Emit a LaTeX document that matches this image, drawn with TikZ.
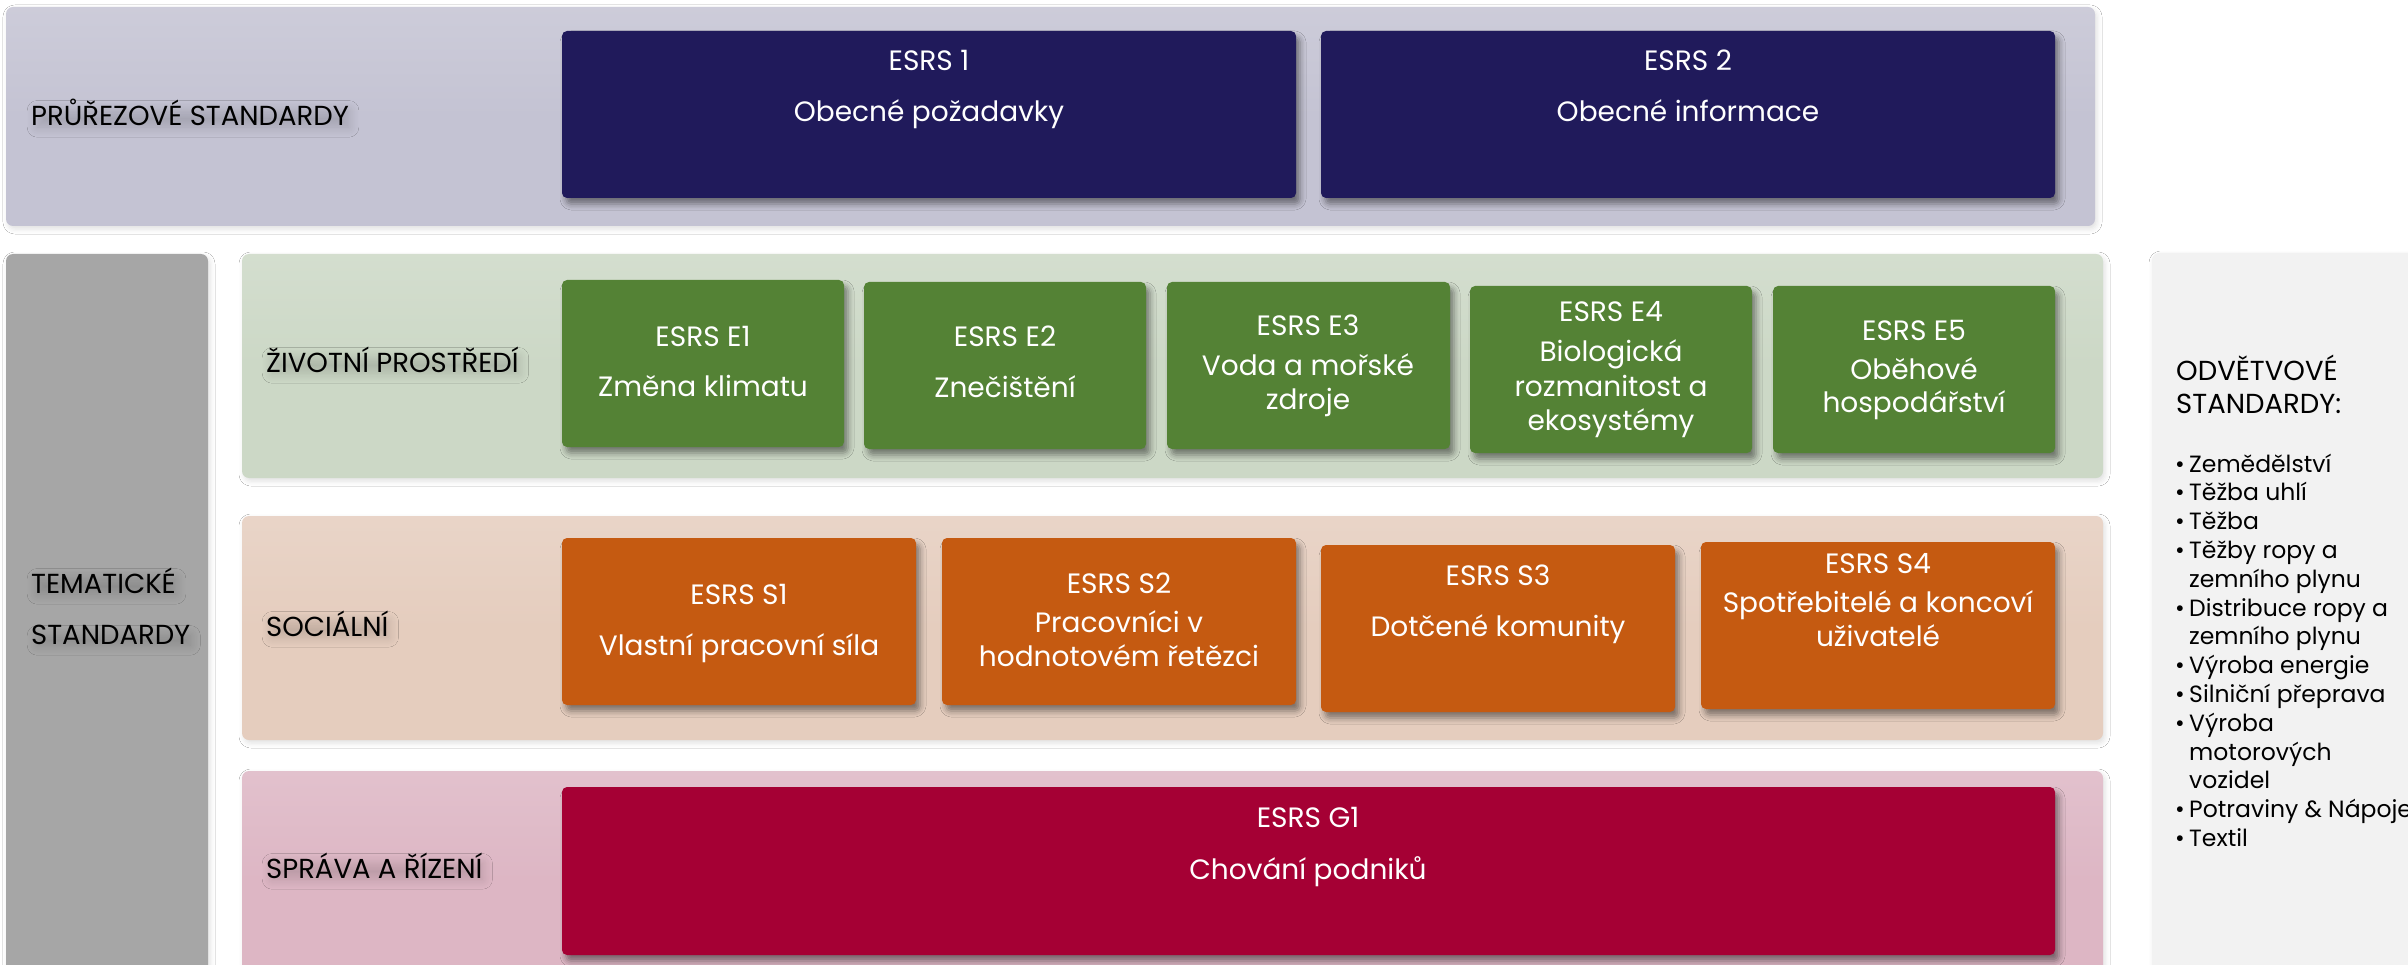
\documentclass[tikz,border=0pt]{standalone}
\usepackage{fontspec}
\setmainfont{Poppins}
\usetikzlibrary{fit,shadows.blur}
\definecolor{topPanel}{HTML}{C4C3D3}
\definecolor{navyBox}{HTML}{201A5B}
\definecolor{greyBar}{HTML}{A6A6A6}
\definecolor{envPanel}{HTML}{CCD8C6}
\definecolor{envBox}{HTML}{548235}
\definecolor{socPanel}{HTML}{E5CDBE}
\definecolor{socBox}{HTML}{C55A11}
\definecolor{govPanel}{HTML}{DDB6C4}
\definecolor{govBox}{HTML}{A50034}
\definecolor{sidePanel}{HTML}{F2F2F2}
\tikzset{
  panel/.style={rounded corners=7pt, inner sep=0pt, blur shadow={shadow xshift=2pt, shadow yshift=-3pt, shadow blur radius=5pt, shadow opacity=12}},
  stdbox/.style={rounded corners=5pt, inner sep=0pt, blur shadow={shadow xshift=4pt, shadow yshift=-6pt, shadow blur radius=6pt, shadow opacity=45}},
  boxtxt/.style={text=white, font=\fontsize{28}{33}\selectfont, anchor=base, inner sep=0pt},
  lbltxt/.style={text=black, font=\fontsize{27.5}{33}\selectfont, anchor=base west, inner sep=0pt},
  shlbl/.style={lbltxt, inner xsep=-3pt, inner ysep=-5pt, blur shadow={shadow xshift=3pt, shadow yshift=-6pt, shadow blur radius=10pt, shadow opacity=16, shadow blur steps=12}},
  listtxt/.style={text=black, font=\fontsize{23.5}{28}\selectfont, anchor=base west, inner sep=0pt},
}
\begin{document}
\begin{tikzpicture}[x=1pt,y=-1pt]
\useasboundingbox (0,0) rectangle (2408,965);
\clip (0,0) rectangle (2408,965);
\fill[white] (0,0) rectangle (2408,965);

% panels
\node[panel, top color=topPanel!85!white, bottom color=topPanel, middle color=topPanel, fit={(6,7) (2095,226)}] (ptop) {};
\node[panel, fill=greyBar, fit={(6,254) (208,990)}] (pgrey) {};
\node[panel, top color=envPanel!85!white, bottom color=envPanel, middle color=envPanel, fit={(242,254) (2103,478)}] (penv) {};
\node[panel, top color=socPanel!85!white, bottom color=socPanel, middle color=socPanel, fit={(242,516) (2103,740)}] (psoc) {};
\node[panel, top color=govPanel!85!white, bottom color=govPanel, middle color=govPanel, fit={(242,771) (2103,990)}] (pgov) {};
\node[panel, fill=sidePanel, fit={(2152,253) (2450,990)}] (pside) {};

% boxes
\node[stdbox, fill=navyBox, fit={(562,31) (1296,198)}] (b1) {};
\node[stdbox, fill=navyBox, fit={(1321,31) (2055,198)}] (b2) {};
\node[stdbox, fill=envBox, fit={(562,280) (844,447)}] (e1) {};
\node[stdbox, fill=envBox, fit={(864,282) (1146,449)}] (e2) {};
\node[stdbox, fill=envBox, fit={(1167,282) (1450,449)}] (e3) {};
\node[stdbox, fill=envBox, fit={(1470,286) (1752,453)}] (e4) {};
\node[stdbox, fill=envBox, fit={(1773,286) (2055,453)}] (e5) {};
\node[stdbox, fill=socBox, fit={(562,538) (916,705)}] (s1) {};
\node[stdbox, fill=socBox, fit={(942,538) (1296,705)}] (s2) {};
\node[stdbox, fill=socBox, fit={(1321,545) (1675,712)}] (s3) {};
\node[stdbox, fill=socBox, fit={(1701,542) (2055,709)}] (s4) {};
\node[stdbox, fill=govBox, fit={(562,787) (2055,955)}] (g1) {};

% box texts
\node[boxtxt] (b1a) at (929,71) {ESRS 1};
\node[boxtxt] (b1b) at (929,122) {Obecné požadavky};
\node[boxtxt] (b2a) at (1688,71) {ESRS 2};
\node[boxtxt] (b2b) at (1688,122) {Obecné informace};

\node[boxtxt] (e1a) at (703,346) {ESRS E1};
\node[boxtxt] (e1b) at (703,396) {Změna klimatu};
\node[boxtxt] (e2a) at (1005,347) {ESRS E2};
\node[boxtxt] (e2b) at (1005,397) {Znečištění};
\node[boxtxt] (e3a) at (1308,336) {ESRS E3};
\node[boxtxt] (e3b) at (1308,375) {Voda a mořské};
\node[boxtxt] (e3c) at (1308,409) {zdroje};
\node[boxtxt] (e4a) at (1611,322) {ESRS E4};
\node[boxtxt] (e4b) at (1611,362) {Biologická};
\node[boxtxt] (e4c) at (1611,396) {rozmanitost a};
\node[boxtxt] (e4d) at (1611,430) {ekosystémy};
\node[boxtxt] (e5a) at (1914,341) {ESRS E5};
\node[boxtxt] (e5b) at (1914,379) {Oběhové};
\node[boxtxt] (e5c) at (1914,412) {hospodářství};

\node[boxtxt] (s1a) at (739,604) {ESRS S1};
\node[boxtxt] (s1b) at (739,655) {Vlastní pracovní síla};
\node[boxtxt] (s2a) at (1119,593) {ESRS S2};
\node[boxtxt] (s2b) at (1119,632) {Pracovníci v};
\node[boxtxt] (s2c) at (1119,666) {hodnotovém řetězci};
\node[boxtxt] (s3a) at (1498,585) {ESRS S3};
\node[boxtxt] (s3b) at (1498,636) {Dotčené komunity};
\node[boxtxt] (s4a) at (1878,573) {ESRS S4};
\node[boxtxt] (s4b) at (1878,612) {Spotřebitelé a koncoví};
\node[boxtxt] (s4c) at (1878,646) {uživatelé};

\node[boxtxt] (g1a) at (1308,827) {ESRS G1};
\node[boxtxt] (g1b) at (1308,879) {Chování podniků};

% row labels
\node[shlbl] (lcross) at (34,126) {PRŮŘEZOVÉ STANDARDY};
\node[shlbl] (lthem1) at (34,593) {TEMATICKÉ};
\node[shlbl] (lthem2) at (34,644) {STANDARDY};
\node[shlbl] (lenv) at (269,372) {ŽIVOTNÍ PROSTŘEDÍ};
\node[shlbl] (lsoc) at (269,636) {SOCIÁLNÍ};
\node[shlbl] (lgov) at (269,878) {SPRÁVA A ŘÍZENÍ};

% sector standards
\node[lbltxt] (sec1) at (2176,380) {ODVĚTVOVÉ};
\node[lbltxt] (sec2) at (2176,413) {STANDARDY:};
\foreach \t/\b [count=\i] in {Zemědělství/1, Těžba uhlí/1, Těžba/1, Těžby ropy a/1, zemního plynu/0, Distribuce ropy a/1, zemního plynu/0, Výroba energie/1, Silniční přeprava/1, Výroba/1, motorových/0, vozidel/0, Potraviny \& Nápoje/1, Textil/1}{
  \node[listtxt] (li\i) at (2189,{472+(\i-1)*28.8}) {\t};
  \ifnum\b=1
    \node[listtxt] (lb\i) at (2175,{472+(\i-1)*28.8}) {•};
  \fi
}
\end{tikzpicture}
\end{document}
